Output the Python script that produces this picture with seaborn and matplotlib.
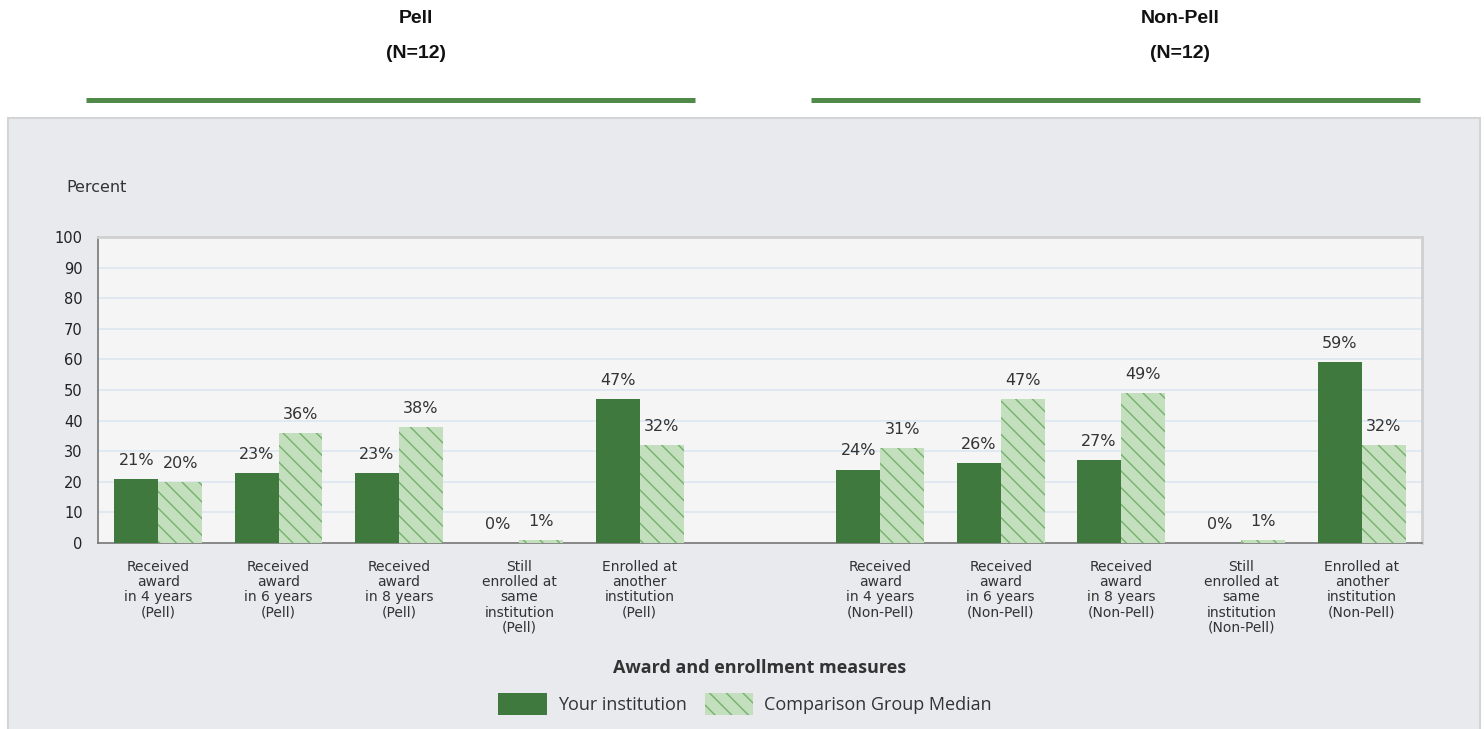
import numpy as np
import pandas as pd
import matplotlib.pyplot as plt
import matplotlib.patches as mpatches
from matplotlib.lines import Line2D
import seaborn as sns

# categorias (slot vazio entre os dois grupos)
categories = [
    "Received\naward\nin 4 years\n(Pell)",
    "Received\naward\nin 6 years\n(Pell)",
    "Received\naward\nin 8 years\n(Pell)",
    "Still\nenrolled at\nsame\ninstitution\n(Pell)",
    "Enrolled at\nanother\ninstitution\n(Pell)",
    " ",
    "Received\naward\nin 4 years\n(Non-Pell)",
    "Received\naward\nin 6 years\n(Non-Pell)",
    "Received\naward\nin 8 years\n(Non-Pell)",
    "Still\nenrolled at\nsame\ninstitution\n(Non-Pell)",
    "Enrolled at\nanother\ninstitution\n(Non-Pell)",
]
measures = [c for c in categories if c.strip()]
your_institution = [21, 23, 23, 0, 47, 24, 26, 27, 0, 59]
comparison_median = [20, 36, 38, 1, 32, 31, 47, 49, 1, 32]
series_names = ["Your institution", "Comparison Group Median"]
group_titles = ["Pell\n(N=12)", "Non-Pell\n(N=12)"]

df = pd.DataFrame({
    "measure": measures * 2,
    "series": [series_names[0]] * len(measures) + [series_names[1]] * len(measures),
    "value": your_institution + comparison_median,
})

dark = "#3f793d"
light = "#c3dfbe"
hatch_col = "#76b06d"

sns.set_theme(style="white")
plt.rcParams["font.family"] = ["DejaVu Sans"]
plt.rcParams["hatch.linewidth"] = 1.0
plt.rcParams["hatch.color"] = hatch_col

fig = plt.figure(figsize=(14.84, 7.29), dpi=100)
fig.patch.set_facecolor("white")

# painel cinza de fundo
W, H = 1484, 729
fig.patches.append(mpatches.Rectangle((8 / W, -0.01), 1472 / W, (729 - 118) / H + 0.01,
                                      transform=fig.transFigure, fc="#e9eaee",
                                      ec="#d3d4d6", lw=1.5, zorder=-5))

ax = fig.add_axes([98 / W, (729 - 543) / H, (1422 - 98) / W, (543 - 237) / H])
ax.set_zorder(2)
ax.set_facecolor("#f5f5f5")

sns.barplot(data=df, x="measure", y="value", hue="series", order=categories,
            hue_order=series_names, palette=[dark, light], width=0.73,
            saturation=1, ax=ax, linewidth=0, zorder=3)

for bar in ax.containers[1]:
    bar.set_hatch("\\\\")
    bar.set_edgecolor(hatch_col)
    bar.set_linewidth(0)

for cont in ax.containers:
    ax.bar_label(cont, fmt="%.0f%%", padding=8, fontsize=11.5, color="#333333")

ax.set_ylim(0, 100)
ax.set_yticks(np.arange(0, 101, 10))
ax.yaxis.grid(True, color="#dce7f1", lw=1.2, zorder=0)
ax.set_axisbelow(True)
ax.tick_params(axis="y", length=0, labelsize=10.5, labelcolor="#222222", pad=11)

ax.set_xlim(-0.5, len(categories) - 0.5)
ax.tick_params(axis="x", which="major", length=0, labelsize=10, labelcolor="#333333", pad=12)
ax.set_xticks(np.arange(-0.5, len(categories), 1), minor=True)
ax.tick_params(axis="x", which="minor", length=8, width=1, color="#666666", direction="out")
for lab in ax.get_xticklabels():
    lab.set_linespacing(1.12)
    lab.set_verticalalignment("top")

ax.set_xlabel("Award and enrollment measures", fontsize=13, color="#333333",
              fontweight="bold", family=["Open Sans", "DejaVu Sans"])
ax.xaxis.set_label_coords(0.5, (543 - 668) / 306)
ax.xaxis.label.set_verticalalignment("center")
ax.set_ylabel("")

for s in ["left", "bottom"]:
    ax.spines[s].set_color("#777777")
    ax.spines[s].set_linewidth(1.2)
for s in ["top", "right"]:
    ax.spines[s].set_color("#d0d0d0")
    ax.spines[s].set_linewidth(2)

# legenda
handles, labels = ax.get_legend_handles_labels()
ax.get_legend().remove()
leg = fig.legend(handles, labels, loc="center", bbox_to_anchor=(745 / W, 1 - 704 / H),
                 ncol=2, frameon=False, handlelength=2.7, handleheight=1.45,
                 columnspacing=1.0, handletextpad=0.6,
                 prop={"family": ["Open Sans", "DejaVu Sans"], "size": 13})
for t in leg.get_texts():
    t.set_color("#333333")
leg_patches = leg.get_patches()
leg_patches[1].set_hatch("\\\\")
leg_patches[1].set_edgecolor(hatch_col)
leg_patches[1].set_linewidth(0)

fig.text(66 / W, 1 - 188 / H, "Percent", fontsize=11.5, color="#333333", va="center")

# titulos dos grupos e linhas verdes
for title, xc, (x0, x1) in zip(group_titles, [416, 1180], [(86, 695), (811, 1420)]):
    fig.text(xc / W, 1 - 36 / H, title, ha="center", va="center",
             fontsize=14, fontweight="bold", color="#111111", linespacing=2.45,
             family=["Liberation Sans", "DejaVu Sans"])
    fig.add_artist(Line2D([x0 / W, x1 / W], [1 - 100 / H] * 2, transform=fig.transFigure,
                          color="#4f8a49", lw=3.6, solid_capstyle="butt"))

plt.savefig("out.png", dpi=100)
